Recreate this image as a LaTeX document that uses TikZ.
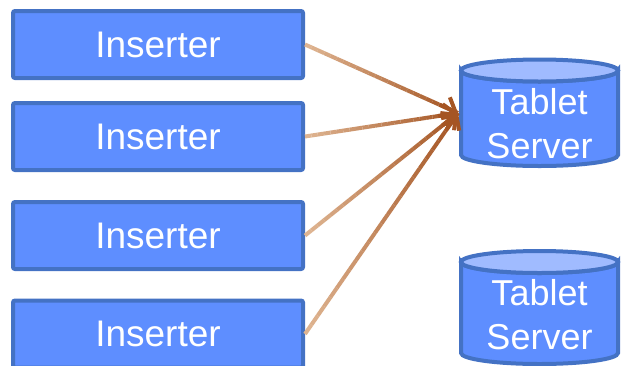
\documentclass[tikz,border=0pt]{standalone}
\usepackage{fontspec}
\setmainfont{Liberation Sans}
\usetikzlibrary{calc,arrows.meta}
\definecolor{boxfill}{RGB}{94,142,255}
\definecolor{boxline}{RGB}{68,114,196}
\definecolor{capfill}{RGB}{160,187,255}
\definecolor{arrowlight}{RGB}{222,180,145}
\definecolor{arrowdark}{RGB}{165,85,35}

% shaded connector: light at the source, dark at the target, open barb tip
\newcommand\shadedlink[2]{%
  \foreach \i in {0,...,23}{%
    \pgfmathsetmacro\fa{\i/24}%
    \pgfmathsetmacro\fb{(\i+1)/24}%
    \pgfmathsetmacro\pc{\i*100/23}%
    \draw[link, arrowdark!\pc!arrowlight] ($(#1)!\fa!(#2)$) -- ($(#1)!\fb!(#2)$);
  }%
  \draw[link, arrowdark, -{Straight Barb[length=11pt,width=22pt]}]
    ($(#2)!20pt!(#1)$) -- (#2);
}

% database drum with a lighter top cap
\newcommand\drum[4]{% center x, top y, bottom y, name
  \path[fill=boxfill, draw=boxline, line width=4pt]
    (#1-78.5,#2) -- (#1-78.5,#3) arc[start angle=180, end angle=360, x radius=78.5, y radius=-11]
    -- (#1+78.5,#2) arc[start angle=0, end angle=180, x radius=78.5, y radius=11] -- cycle;
  \path[fill=capfill, draw=boxline, line width=4pt]
    (#1,#2) ellipse[x radius=78.5, y radius=11];
}

\begin{document}
\begin{tikzpicture}[x=1pt,y=-1pt,
  inserter/.style={draw=boxline, fill=boxfill, line width=4pt, rounded corners=2pt,
    minimum width=290pt, minimum height=67pt, inner sep=0pt, text=white,
    font=\fontsize{37}{43}\selectfont},
  drumlabel/.style={text=white, align=center, inner sep=0pt,
    font=\fontsize{36}{44}\selectfont},
  link/.style={line width=4pt, line cap=butt}]
\useasboundingbox (0,0) rectangle (621,365);

\node[inserter] (ins1) at (158,44.5) {Inserter};
\node[inserter] (ins2) at (158,136.5) {Inserter};
\node[inserter] (ins3) at (158,235.5) {Inserter};
\node[inserter] (ins4) at (158,334) {Inserter};

\drum{539.5}{70.5}{155}{ts1}
\node[drumlabel] (ts1) at (539.5,124) {Tablet\\Server};
\drum{539.5}{262}{353}{ts2}
\node[drumlabel] (ts2) at (539.5,315) {Tablet\\Server};

\coordinate (ts1in) at (458,113);

\shadedlink{ins1.east}{ts1in}
\shadedlink{ins2.east}{ts1in}
\shadedlink{ins3.east}{ts1in}
\shadedlink{ins4.east}{ts1in}
\end{tikzpicture}
\end{document}
